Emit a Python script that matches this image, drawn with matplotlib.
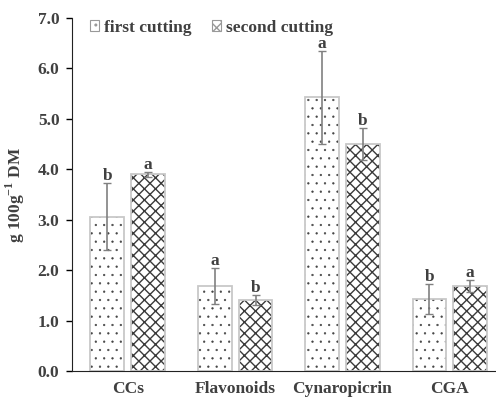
import numpy as np
import matplotlib.pyplot as plt
from matplotlib.patches import Patch

plt.rcParams['font.family'] = 'Liberation Serif'
plt.rcParams['font.weight'] = 'bold'
plt.rcParams['mathtext.fontset'] = 'custom'
plt.rcParams['mathtext.rm'] = 'Liberation Serif:bold'

categories = ['CCs', 'Flavonoids', 'Cynaropicrin', 'CGA']
first = [3.06, 1.69, 5.43, 1.43]
first_err = [0.66, 0.36, 0.92, 0.30]
second = [3.90, 1.41, 4.50, 1.69]
second_err = [0.05, 0.10, 0.32, 0.12]
first_letters = ['b', 'a', 'a', 'b']
second_letters = ['a', 'b', 'b', 'a']

txt = '#404040'
x = np.arange(len(categories))
w = 0.315
off = 0.19

fig = plt.figure(figsize=(4.96, 4.01), dpi=100)
ax = fig.add_axes([0.145, 0.075, 0.855, 0.88])

# hatched fill, then light outline on top
plt.rcParams['hatch.linewidth'] = 0.4
ax.bar(x - off, first, w, color='white', edgecolor='#444444', hatch='..', linewidth=0)
h1 = Patch(facecolor='white', edgecolor='#999999', hatch='..', linewidth=0.8)
plt.rcParams['hatch.linewidth'] = 1.0
ax.bar(x + off, second, w, color='white', edgecolor='#3a3a3a', hatch='xxx', linewidth=0)
h2 = Patch(facecolor='white', edgecolor='#999999', hatch='xxx', linewidth=0.8)
ax.bar(x - off, first, w, fill=False, edgecolor='#c8c8c8', linewidth=1.3)
ax.bar(x + off, second, w, fill=False, edgecolor='#c8c8c8', linewidth=1.3)

ax.errorbar(x - off, first, yerr=first_err, fmt='none', ecolor='#808080', elinewidth=1.2, capsize=3)
ax.errorbar(x + off, second, yerr=second_err, fmt='none', ecolor='#808080', elinewidth=1.2, capsize=3)

for i in range(len(categories)):
    ax.text(x[i] - off, first[i] + first_err[i] - 0.02, first_letters[i], ha='center', va='bottom',
            fontsize=12.5, color=txt)
    ax.text(x[i] + off, second[i] + second_err[i] - 0.02, second_letters[i], ha='center', va='bottom',
            fontsize=12.5, color=txt)

ax.set_xlim(-0.52, 3.43)
ax.set_ylim(0, 7)
ax.set_yticks(np.arange(0, 7.1, 1.0))
ax.set_yticklabels(['%.1f' % v for v in np.arange(0, 7.1, 1.0)], fontsize=12.5, color=txt)
ax.set_xticks(x)
ax.set_xticklabels(categories, fontsize=12.5, color=txt)
ax.tick_params(axis='x', length=0, pad=7)
ax.tick_params(axis='y', length=4, width=1, pad=5)
for s in ['left', 'bottom']:
    ax.spines[s].set_color('#222222')
ax.spines['top'].set_visible(False)
ax.spines['right'].set_visible(False)
ax.set_ylabel('g 100g$^{-1}$ DM', fontsize=12.5, color=txt, labelpad=8, fontweight='bold')

ax.legend([h1, h2], ['first cutting', 'second cutting'], loc='upper left', bbox_to_anchor=(0.005, 1.04),
          ncol=2, frameon=False, fontsize=12.5, handlelength=0.55, handleheight=0.55,
          handletextpad=0.25, columnspacing=1.2, labelcolor=txt)

plt.savefig('out.png', dpi=100)
